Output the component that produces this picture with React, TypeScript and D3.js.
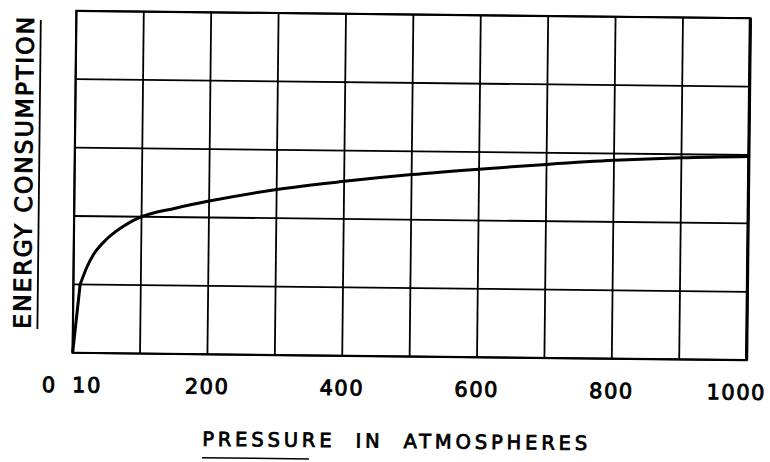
import React from 'react'
import * as d3 from 'd3'

// pressure (atm) vs energy consumption (grid units)
const pressure = [0, 10, 20, 30, 50, 75, 100, 150, 200, 300, 400, 500, 600, 700, 800, 900, 1000]
const energy = [0, 1.0, 1.26, 1.45, 1.68, 1.87, 2.0, 2.13, 2.24, 2.42, 2.55, 2.66, 2.75, 2.83, 2.9, 2.95, 2.98]

const gridX = [0, 100, 200, 300, 400, 500, 600, 700, 800, 900, 1000]
const gridY = [0, 1, 2, 3, 4, 5]
const tickLabels = ['0', '10', '200', '400', '600', '800', '1000']
const tickValues = [0, 10, 200, 400, 600, 800, 1000]

const W = 770
const H = 462
const left = 74.5
const right = 748.5
const top = 14.5
const bottom = 356.5

const font = '"DejaVu Sans", sans-serif'

const App = () => {
  const x = d3.scaleLinear().domain([0, 1000]).range([left, right])
  const y = d3.scaleLinear().domain([0, 5]).range([bottom, top])

  const pts: [number, number][] = pressure.map((p, i) => [x(p), y(energy[i])])
  // steep straight rise up to 10 atm, then a smooth bend
  const steep = d3.line().curve(d3.curveLinear)(pts.slice(0, 2)) || ''
  const bend = d3.line().curve(d3.curveMonotoneX)(pts.slice(1)) || ''

  // nudge for labels that sit off their gridline in the original
  const labelShift: Record<string, number> = { '0': -23, '10': 8, '1000': -10 }

  return (
    <div style={{ position: 'fixed', left: 0, top: 0 }}>
      <svg width={W} height={H} style={{ display: 'block', background: '#fff' }}>
        <g transform={`rotate(0.63, ${(left + right) / 2}, ${(top + bottom) / 2})`}>
          {gridX.map((v) => (
            <line key={'gx' + v} x1={x(v)} x2={x(v)} y1={top} y2={bottom} stroke="#000" strokeWidth={1.8} />
          ))}
          {gridY.map((v) => (
            <line key={'gy' + v} x1={left} x2={right} y1={y(v)} y2={y(v)} stroke="#000" strokeWidth={1.8} />
          ))}
          <rect x={left} y={top} width={right - left} height={bottom - top} fill="none" stroke="#000" strokeWidth={2.2} />
          <line x1={right} x2={right} y1={top} y2={bottom} stroke="#000" strokeWidth={3.2} />

          <path d={steep} fill="none" stroke="#000" strokeWidth={3} strokeLinejoin="round" />
          <path d={bend} fill="none" stroke="#000" strokeWidth={3} strokeLinecap="round" />

          {tickValues.map((v, i) => (
            <text
              key={'t' + v}
              x={x(v) + (labelShift[tickLabels[i]] || 0)}
              y={396}
              textAnchor="middle"
              fontFamily={font}
              fontSize={21}
              letterSpacing={1.5}
              stroke="#000"
              strokeWidth={0.9}
            >
              {tickLabels[i]}
            </text>
          ))}

          <text
            x={205}
            y={448}
            fontFamily={font}
            fontSize={19.5}
            stroke="#000"
            strokeWidth={0.8}
            textLength={385}
            lengthAdjust="spacing"
            style={{ whiteSpace: 'pre' }}
          >
            {'PRESSURE  IN  ATMOSPHERES'}
          </text>
          <line x1={205} x2={312} y1={460} y2={460} stroke="#000" strokeWidth={1.5} />

          <text
            transform={`translate(32, 333) rotate(-90)`}
            fontFamily={font}
            fontSize={23.5}
            stroke="#000"
            strokeWidth={0.9}
            textLength={312}
            lengthAdjust="spacing"
          >
            ENERGY CONSUMPTION
          </text>
          <line x1={39} x2={39} y1={24} y2={333} stroke="#000" strokeWidth={1.8} />
        </g>
      </svg>
    </div>
  )
}

export default App
